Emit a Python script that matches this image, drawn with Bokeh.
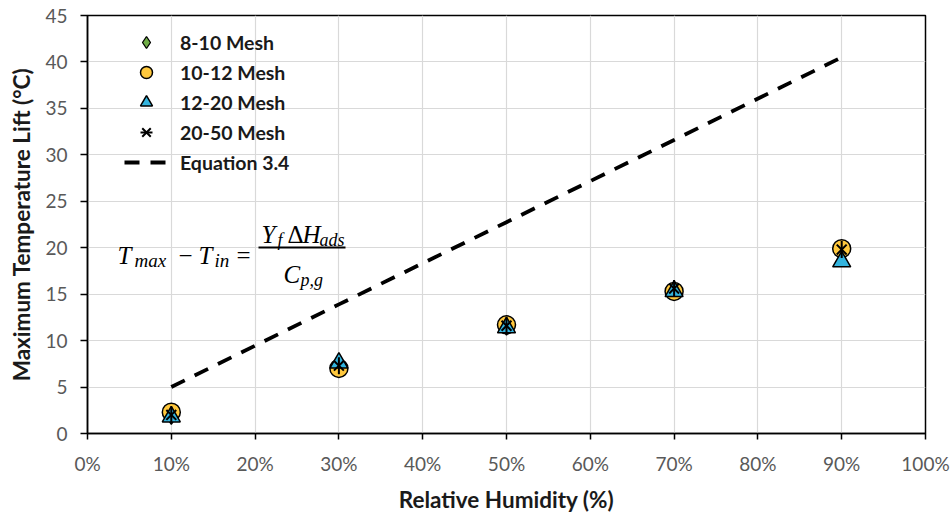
import math
from bokeh.plotting import figure
from bokeh.models import (Legend, LegendItem, Label, BoxAnnotation, FixedTicker,
                          PrintfTickFormatter)
from bokeh.embed import file_html
from bokeh.resources import INLINE

# Relative humidity (%) at which each sieve fraction was tested
rh = [10, 30, 50, 70, 90]

# Maximum temperature lift (°C) per particle size
lift_8_10 = [2.0, 7.2, 11.6, 15.4, 19.5]
lift_10_12 = [2.3, 7.0, 11.7, 15.3, 19.9]
lift_12_20 = [1.8, 7.6, 11.4, 15.3, 18.5]
lift_20_50 = [2.0, 7.3, 11.6, 15.6, 19.8]

# Prediction from Equation 3.4
eq_lift = [5.0, 13.9, 22.75, 31.6, 40.5]

x_ticks = [0, 10, 20, 30, 40, 50, 60, 70, 80, 90, 100]
y_ticks = [0, 5, 10, 15, 20, 25, 30, 35, 40, 45]

TICK_FONT = "Lato"
FRAME_LEFT, FRAME_BOTTOM = 87, 435

p = figure(width=952, height=515, x_range=(0, 100), y_range=(0, 45),
           output_backend="svg", toolbar_location=None,
           min_border_left=FRAME_LEFT, min_border_right=27,
           min_border_top=15, min_border_bottom=80)
p.background_fill_color = "white"
p.border_fill_color = "white"
p.outline_line_color = "black"
p.outline_line_width = 1.5

for ax in (p.xaxis[0], p.yaxis[0]):
    ax.axis_line_color = "black"
    ax.axis_line_width = 1.5
    ax.major_tick_line_color = "black"
    ax.major_tick_line_width = 1.5
    ax.major_tick_in = 0
    ax.minor_tick_line_color = None
    ax.major_label_text_font = TICK_FONT
    ax.major_label_text_font_size = "19px"
    ax.major_label_text_color = "#595959"
    ax.axis_label_text_font = TICK_FONT
    ax.axis_label_text_font_style = "bold"
    ax.axis_label_text_font_size = "22.5px"
    ax.axis_label_text_color = "#1a1a1a"

p.xaxis.ticker = FixedTicker(ticks=x_ticks)
p.xaxis.formatter = PrintfTickFormatter(format="%d%%")
p.xaxis.major_tick_out = 6
p.xaxis.major_label_standoff = 12
p.xaxis.axis_label = "Relative Humidity (%)"
p.xaxis.axis_label_standoff = 8

p.yaxis.ticker = FixedTicker(ticks=y_ticks)
p.yaxis.major_tick_out = 7
p.yaxis.major_label_standoff = 13
p.yaxis.axis_label = "Maximum Temperature Lift (°C)"
p.yaxis.axis_label_standoff = 7

p.xgrid.ticker = FixedTicker(ticks=x_ticks)
p.ygrid.ticker = FixedTicker(ticks=y_ticks)
p.xgrid.grid_line_color = "#d9d9d9"
p.ygrid.grid_line_color = "#d9d9d9"
p.xgrid.grid_line_width = 1.2
p.ygrid.grid_line_width = 1.2

# Measured data
r1 = p.scatter(rh, lift_8_10, marker="diamond", size=19,
               fill_color="#70ad47", line_color="black", line_width=1.3)
r2 = p.scatter(rh, lift_10_12, marker="circle", size=18,
               fill_color="#ffc83d", line_color="black", line_width=1.5)
r3 = p.scatter(rh, lift_12_20, marker="triangle", size=18,
               fill_color="#33b4de", line_color="black", line_width=1.5)
r4a = p.scatter(rh, lift_20_50, marker="x", size=14,
                line_color="black", line_width=2)
r4b = p.scatter(rh, lift_20_50, marker="dash", size=17, angle=math.pi / 2,
                line_color="black", line_width=2)

# Model prediction
r5 = p.line(rh, eq_lift, line_color="black", line_width=3.8,
            line_dash="15 11")

legend = Legend(items=[
    LegendItem(label="8-10 Mesh", renderers=[r1]),
    LegendItem(label="10-12 Mesh", renderers=[r2]),
    LegendItem(label="12-20 Mesh", renderers=[r3]),
    LegendItem(label="20-50 Mesh", renderers=[r4a, r4b]),
    LegendItem(label="Equation 3.4", renderers=[r5]),
], location=(37, 256))
legend.border_line_color = None
legend.background_fill_alpha = 0
legend.padding = 0
legend.margin = 0
legend.spacing = 0
legend.glyph_width = 44
legend.glyph_height = 30
legend.label_height = 30
legend.label_standoff = 12
legend.label_text_font = TICK_FONT
legend.label_text_font_style = "bold"
legend.label_text_font_size = "19.5px"
legend.label_text_color = "#1a1a1a"
p.add_layout(legend, "center")


# Equation 3.4 written into the plot area
def eq_text(text, px, py, size, style="italic"):
    p.add_layout(Label(x=px - FRAME_LEFT, y=FRAME_BOTTOM - py,
                       x_units="screen", y_units="screen", text=text,
                       text_font="Liberation Serif", text_font_style=style,
                       text_font_size=f"{size}px", text_color="black",
                       text_baseline="alphabetic", text_align="left"))


eq_text("T", 117, 257, 25)
eq_text("max", 134, 262, 19)
eq_text("\u2212", 178, 257, 25, "normal")
eq_text("T", 198, 257, 25)
eq_text("in", 214, 262, 19)
eq_text("=", 236, 257, 25, "normal")
eq_text("Y", 261, 236, 25)
eq_text("f", 277, 241, 18)
eq_text("\u0394", 287, 236, 25, "normal")
eq_text("H", 302, 236, 25)
eq_text("ads", 319, 241, 18)
eq_text("C", 283, 276, 25)
eq_text("p,g", 300, 281, 18)
p.add_layout(BoxAnnotation(left=258 - FRAME_LEFT, right=345 - FRAME_LEFT,
                           bottom=FRAME_BOTTOM - 250, top=FRAME_BOTTOM - 248,
                           left_units="screen", right_units="screen",
                           bottom_units="screen", top_units="screen",
                           fill_color="black", fill_alpha=1, line_alpha=0))

open("out.html", "w").write(file_html(p, INLINE))
